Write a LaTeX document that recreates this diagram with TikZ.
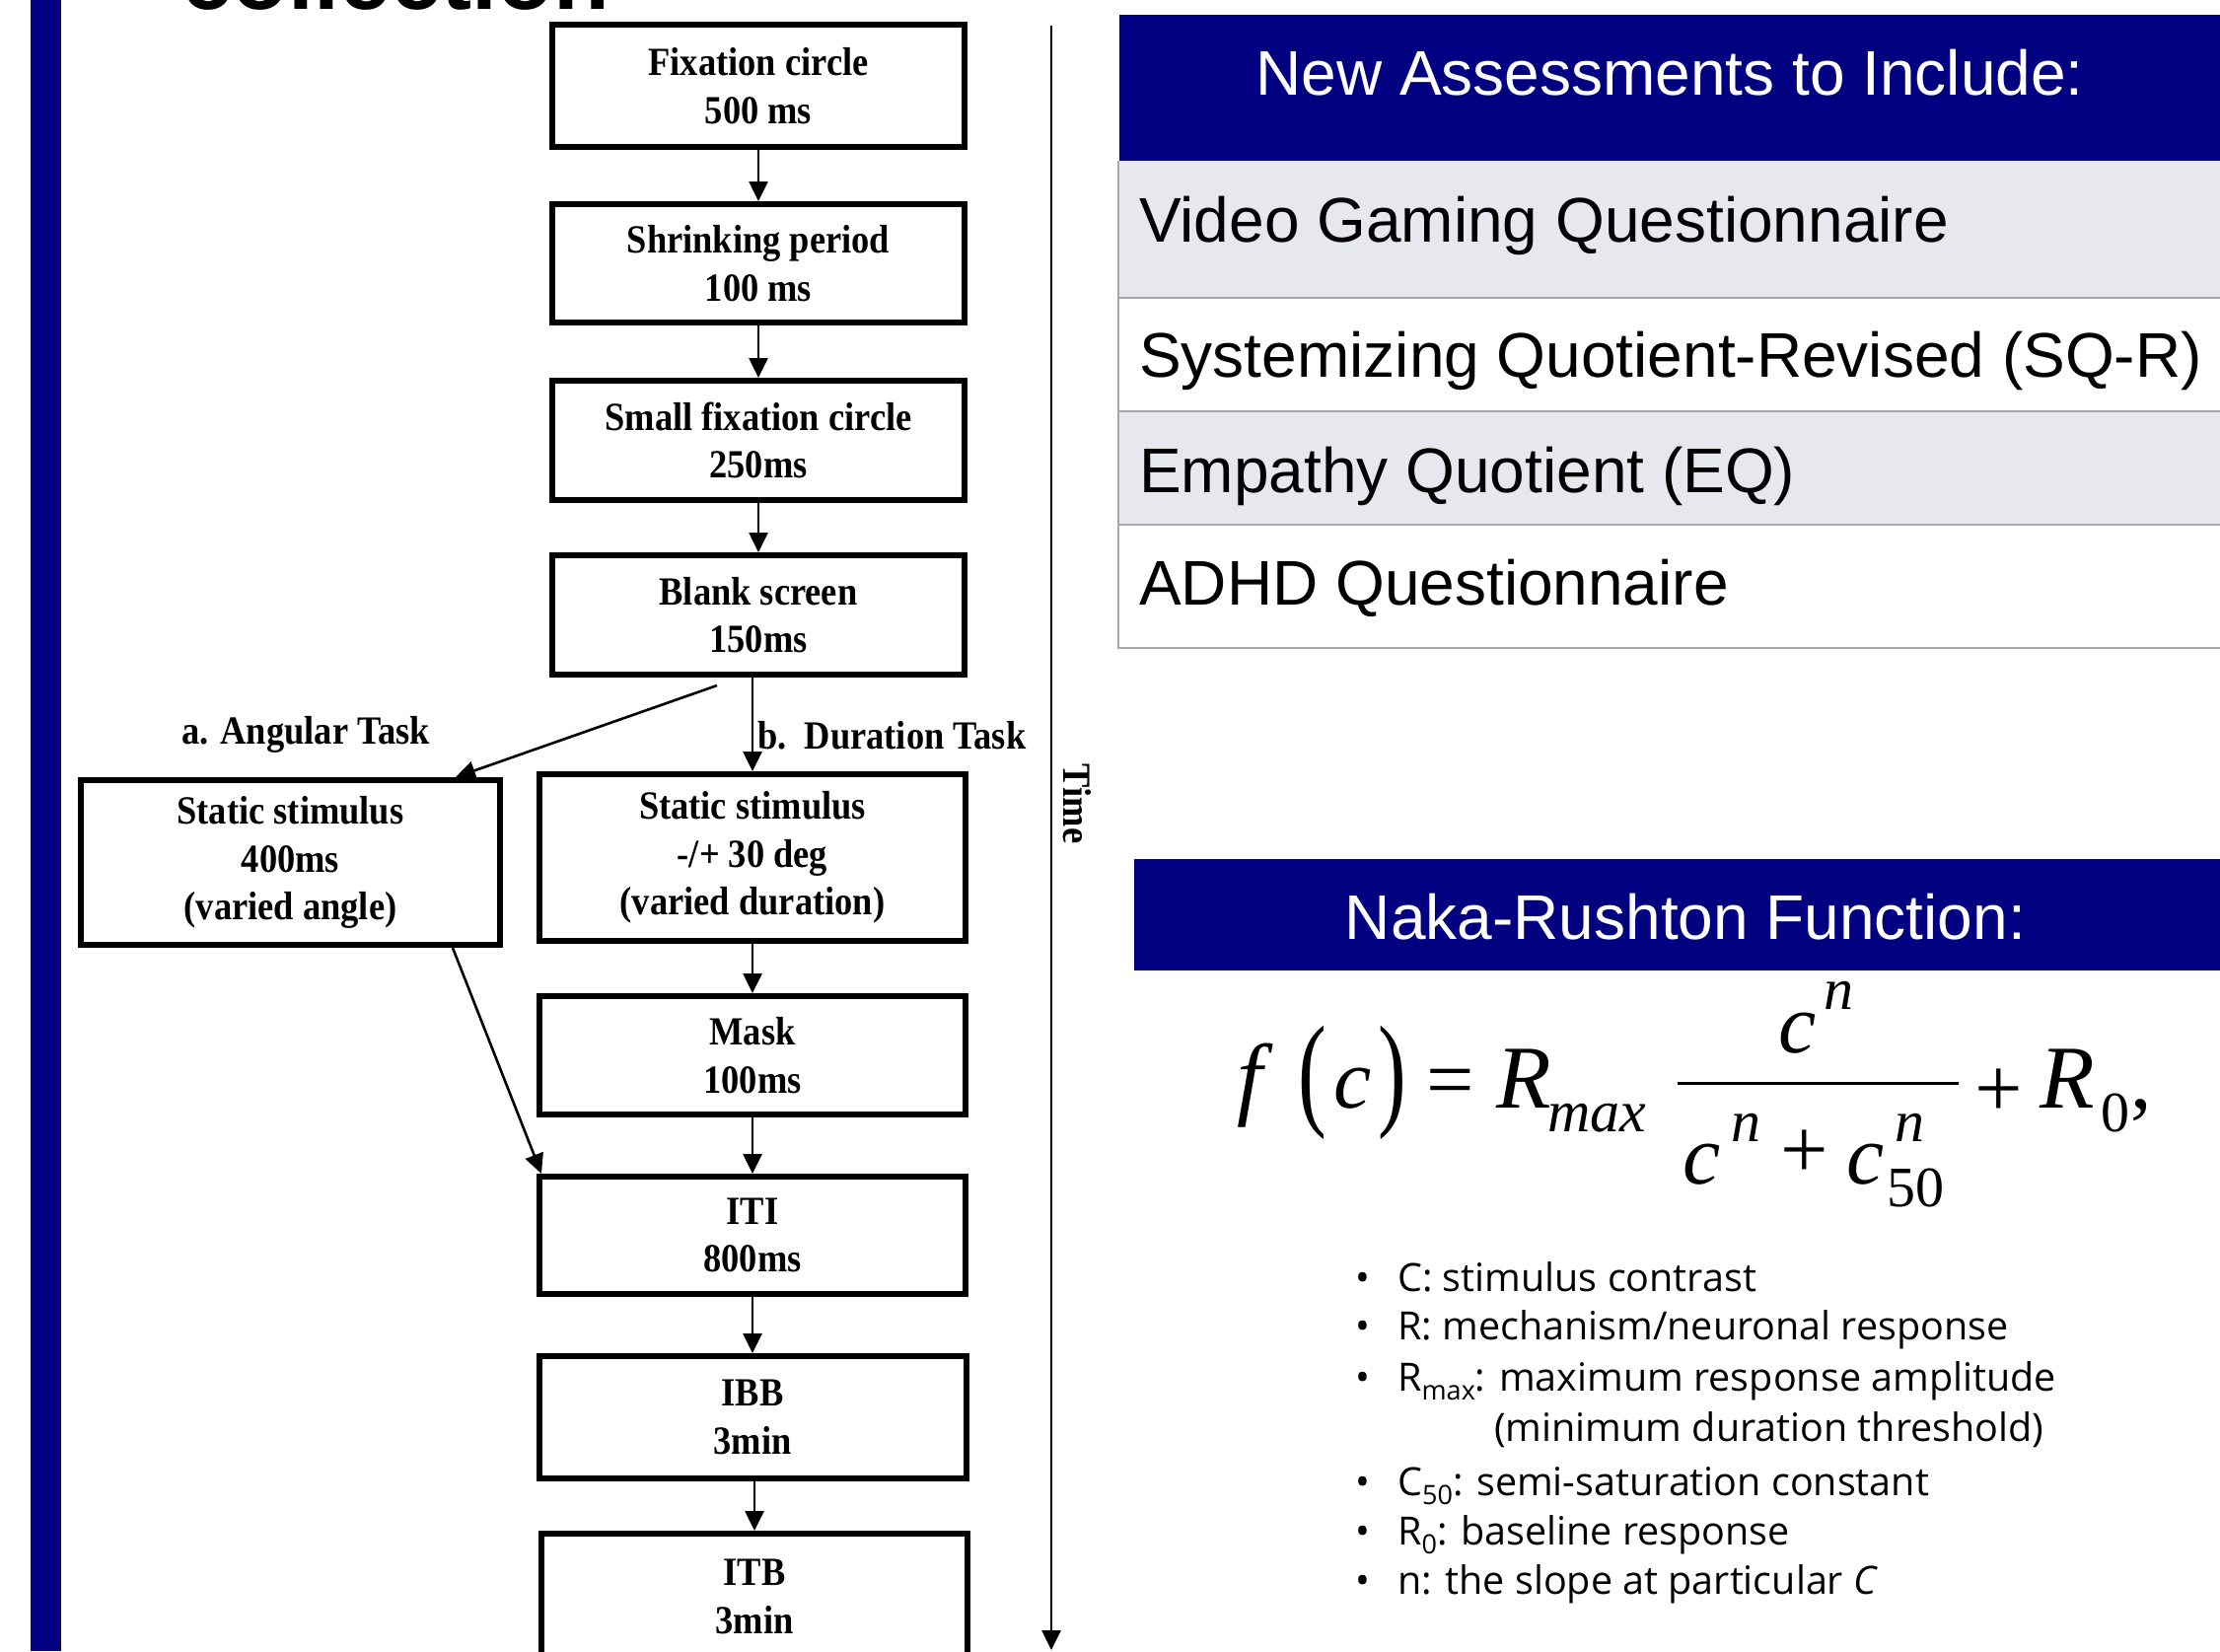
\documentclass[tikz,border=0pt]{standalone}
\usepackage{fontspec}
\usepackage{graphicx}
\setmainfont{Liberation Serif}
\newfontfamily\sansf{Liberation Sans}
\newfontfamily\serff{Liberation Serif}
\newfontfamily\serfc[FakeStretch=0.9]{Liberation Serif}
\newfontfamily\bulf{Open Sans}
\usetikzlibrary{arrows.meta}
\definecolor{navyblue}{RGB}{0,0,128}
\definecolor{rowgray}{RGB}{231,231,238}
\definecolor{rulegray}{RGB}{168,168,168}
\newcommand\subtx[1]{\raisebox{-9pt}{\fontsize{27}{27}\selectfont #1}}
\begin{document}
\begin{tikzpicture}[x=1pt,y=-1pt,
  box/.style={draw, line width=6pt, inner sep=0pt, align=center,
    font=\serfc\bfseries\fontsize{40.5}{48.5}\selectfont},
  lbl/.style={inner sep=0pt, font=\serfc\bfseries\fontsize{40.5}{44}\selectfont},
  arr/.style={line width=2.6pt, -{Triangle[length=20pt,width=19pt]}},
  rowtxt/.style={inner sep=0pt, anchor=base west, font=\sansf\fontsize{64}{70}\selectfont},
  hdrtxt/.style={inner sep=0pt, anchor=base, text=white, font=\sansf\fontsize{64}{70}\selectfont},
  fm/.style={inner sep=0pt, anchor=base west, font=\serff\itshape\fontsize{86}{90}\selectfont},
  fmR/.style={inner sep=0pt, anchor=base west, font=\serff\itshape\fontsize{91}{95}\selectfont},
  fs/.style={inner sep=0pt, anchor=base west, font=\serff\itshape\fontsize{60}{62}\selectfont},
  fu/.style={inner sep=0pt, anchor=base west, font=\serff\fontsize{86}{90}\selectfont},
  fus/.style={inner sep=0pt, anchor=base west, font=\serff\fontsize{58}{60}\selectfont},
  bul/.style={inner sep=0pt, anchor=base west, font=\bulf\fontsize{39.5}{44}\selectfont},
  dot/.style={inner sep=0pt, anchor=base, font=\bulf\fontsize{39.5}{44}\selectfont}]
\clip (0,0) rectangle (2251,1674);
\fill[white] (0,0) rectangle (2251,1674);
% left bar and title
\fill[navyblue] (31,0) rectangle (62,1674);
\node[inner sep=0pt, anchor=base west, font=\sansf\bfseries\fontsize{93}{96}\selectfont] (title) at (184,9) {collection};
% flowchart
\node[box, minimum width=418pt, minimum height=124pt] (b1) at (769,87) {Fixation circle\\500 ms};
\node[box, minimum width=418pt, minimum height=120pt] (b2) at (769,267) {Shrinking period\\100 ms};
\node[box, minimum width=418pt, minimum height=121pt] (b3) at (769,446.5) {Small fixation circle\\250ms};
\node[box, minimum width=418pt, minimum height=121pt] (b4) at (769,623.5) {Blank screen\\150ms};
\node[box, minimum width=425pt, minimum height=167pt] (ang) at (294.5,874.5) {Static stimulus\\400ms\\(varied angle)};
\node[box, minimum width=432pt, minimum height=169pt] (dur) at (763,869.5) {Static stimulus\\-/+ 30 deg\\(varied duration)};
\node[box, minimum width=432pt, minimum height=120pt] (mask) at (763,1070) {Mask\\100ms};
\node[box, minimum width=432pt, minimum height=119pt] (iti) at (763,1252.5) {ITI\\800ms};
\node[box, minimum width=433pt, minimum height=124pt] (ibb) at (763,1437) {IBB\\3min};
\node[box, minimum width=432pt, minimum height=128pt] (itb) at (765,1619) {ITB\\3min};
\node[lbl, anchor=base west] (la) at (184,754) {a. Angular Task};
\node[lbl, anchor=base west] (lb) at (768,759) {b.\ \ Duration Task};
\draw[arr] (b1) -- (b2);
\draw[arr] (b2) -- (b3);
\draw[arr] (b3) -- (b4);
\draw[arr] (b4.south -| dur.north) -- (dur.north);
\draw[arr] ([xshift=-42pt,yshift=-8pt]b4.south) -- ([xshift=-48pt]ang.north east);
\draw[arr] ([xshift=-51pt]ang.south east) -- ([xshift=5pt]iti.north west);
\draw[arr] (dur) -- (mask);
\draw[arr] (mask) -- (iti);
\draw[arr] (iti) -- (ibb);
\draw[arr] (ibb.south -| itb.north) -- (itb.north);
% time axis
\coordinate (t0) at (1066,26);
\coordinate (t1) at (1066,1673);
\draw[arr] (t0) -- (t1);
\node[lbl, rotate=-90] (time) at (1092,815) {Time};
% assessments table
\fill[navyblue] (1135,15) rectangle (2251,163);
\fill[rowgray] (1134,163) rectangle (2251,302);
\fill[rowgray] (1134,417) rectangle (2251,532);
\draw[rulegray, line width=2pt] (1134,163) -- (1134,657) -- (2251,657);
\draw[rulegray, line width=2pt] (1134,302) -- (2251,302);
\draw[rulegray, line width=2pt] (1134,417) -- (2251,417);
\draw[rulegray, line width=2pt] (1134,532) -- (2251,532);
\node[hdrtxt] (h1) at (1693,96) {New Assessments to Include:};
\node[rowtxt] (r1) at (1155,245) {Video Gaming Questionnaire};
\node[rowtxt] (r2) at (1155,382) {Systemizing Quotient-Revised (SQ-R)};
\node[rowtxt] (r3) at (1155,499) {Empathy Quotient (EQ)};
\node[rowtxt] (r4) at (1155,613) {ADHD Questionnaire};
% Naka-Rushton
\fill[navyblue] (1150,871) rectangle (2251,984);
\node[hdrtxt] (h2) at (1709,952) {Naka-Rushton Function:};
% formula
\node[fmR, font=\serff\itshape\fontsize{93}{95}\selectfont] (ff) at (1254,1123) {f};
\node[fu, anchor=center] (lp) at (1331,1098) {\scalebox{1}[1.48]{(}};
\node[fm] (fc) at (1352,1123) {c};
\node[fu, anchor=center] (rp) at (1412,1098) {\scalebox{1}[1.48]{)}};
\node[fu] (eq) at (1446,1123) {=};
\node[fmR] (fR) at (1517,1123) {R};
\node[fs] (fmax) at (1569,1147) {max};
\coordinate (fb0) at (1701,1098);
\coordinate (fb1) at (1986,1098);
\draw[line width=3pt] (fb0) -- (fb1);
\node[fm] (nc) at (1803,1067) {c};
\node[fs] (nn) at (1849,1023) {n};
\node[fm] (dc1) at (1706,1200) {c};
\node[fs] (dn1) at (1755,1157) {n};
\node[fu, anchor=center] (dplus) at (1830,1170) {+};
\node[fm] (dc2) at (1872,1200) {c};
\node[fs] (dn2) at (1921,1157) {n};
\node[fus] (d50) at (1913,1223) {50};
\node[fu, anchor=center] (plus) at (2027,1108) {+};
\node[fmR] (fR0) at (2068,1123) {R};
\node[fus] (f0) at (2130,1147) {0};
\node[fu] (comma) at (2160,1123) {,};
% bullets
\foreach \yy/\nm in {1309/d1,1358/d2,1410/d3,1516/d4,1566/d5,1616/d6}{
  \node[dot] (\nm) at (1382,\yy) {•};
}
\node[bul] (e1) at (1417,1309) {C: stimulus contrast};
\node[bul] (e2) at (1417,1358) {R: mechanism/neuronal response};
\node[bul] (e3) at (1417,1410) {R\subtx{max}: maximum response amplitude};
\node[bul] (e3b) at (1515,1461) {(minimum duration threshold)};
\node[bul] (e4) at (1417,1516) {C\subtx{50}: semi-saturation constant};
\node[bul] (e5) at (1417,1566) {R\subtx{0}: baseline response};
\node[bul] (e6) at (1417,1616) {n: the slope at particular \textit{C}};
\end{tikzpicture}
\end{document}
